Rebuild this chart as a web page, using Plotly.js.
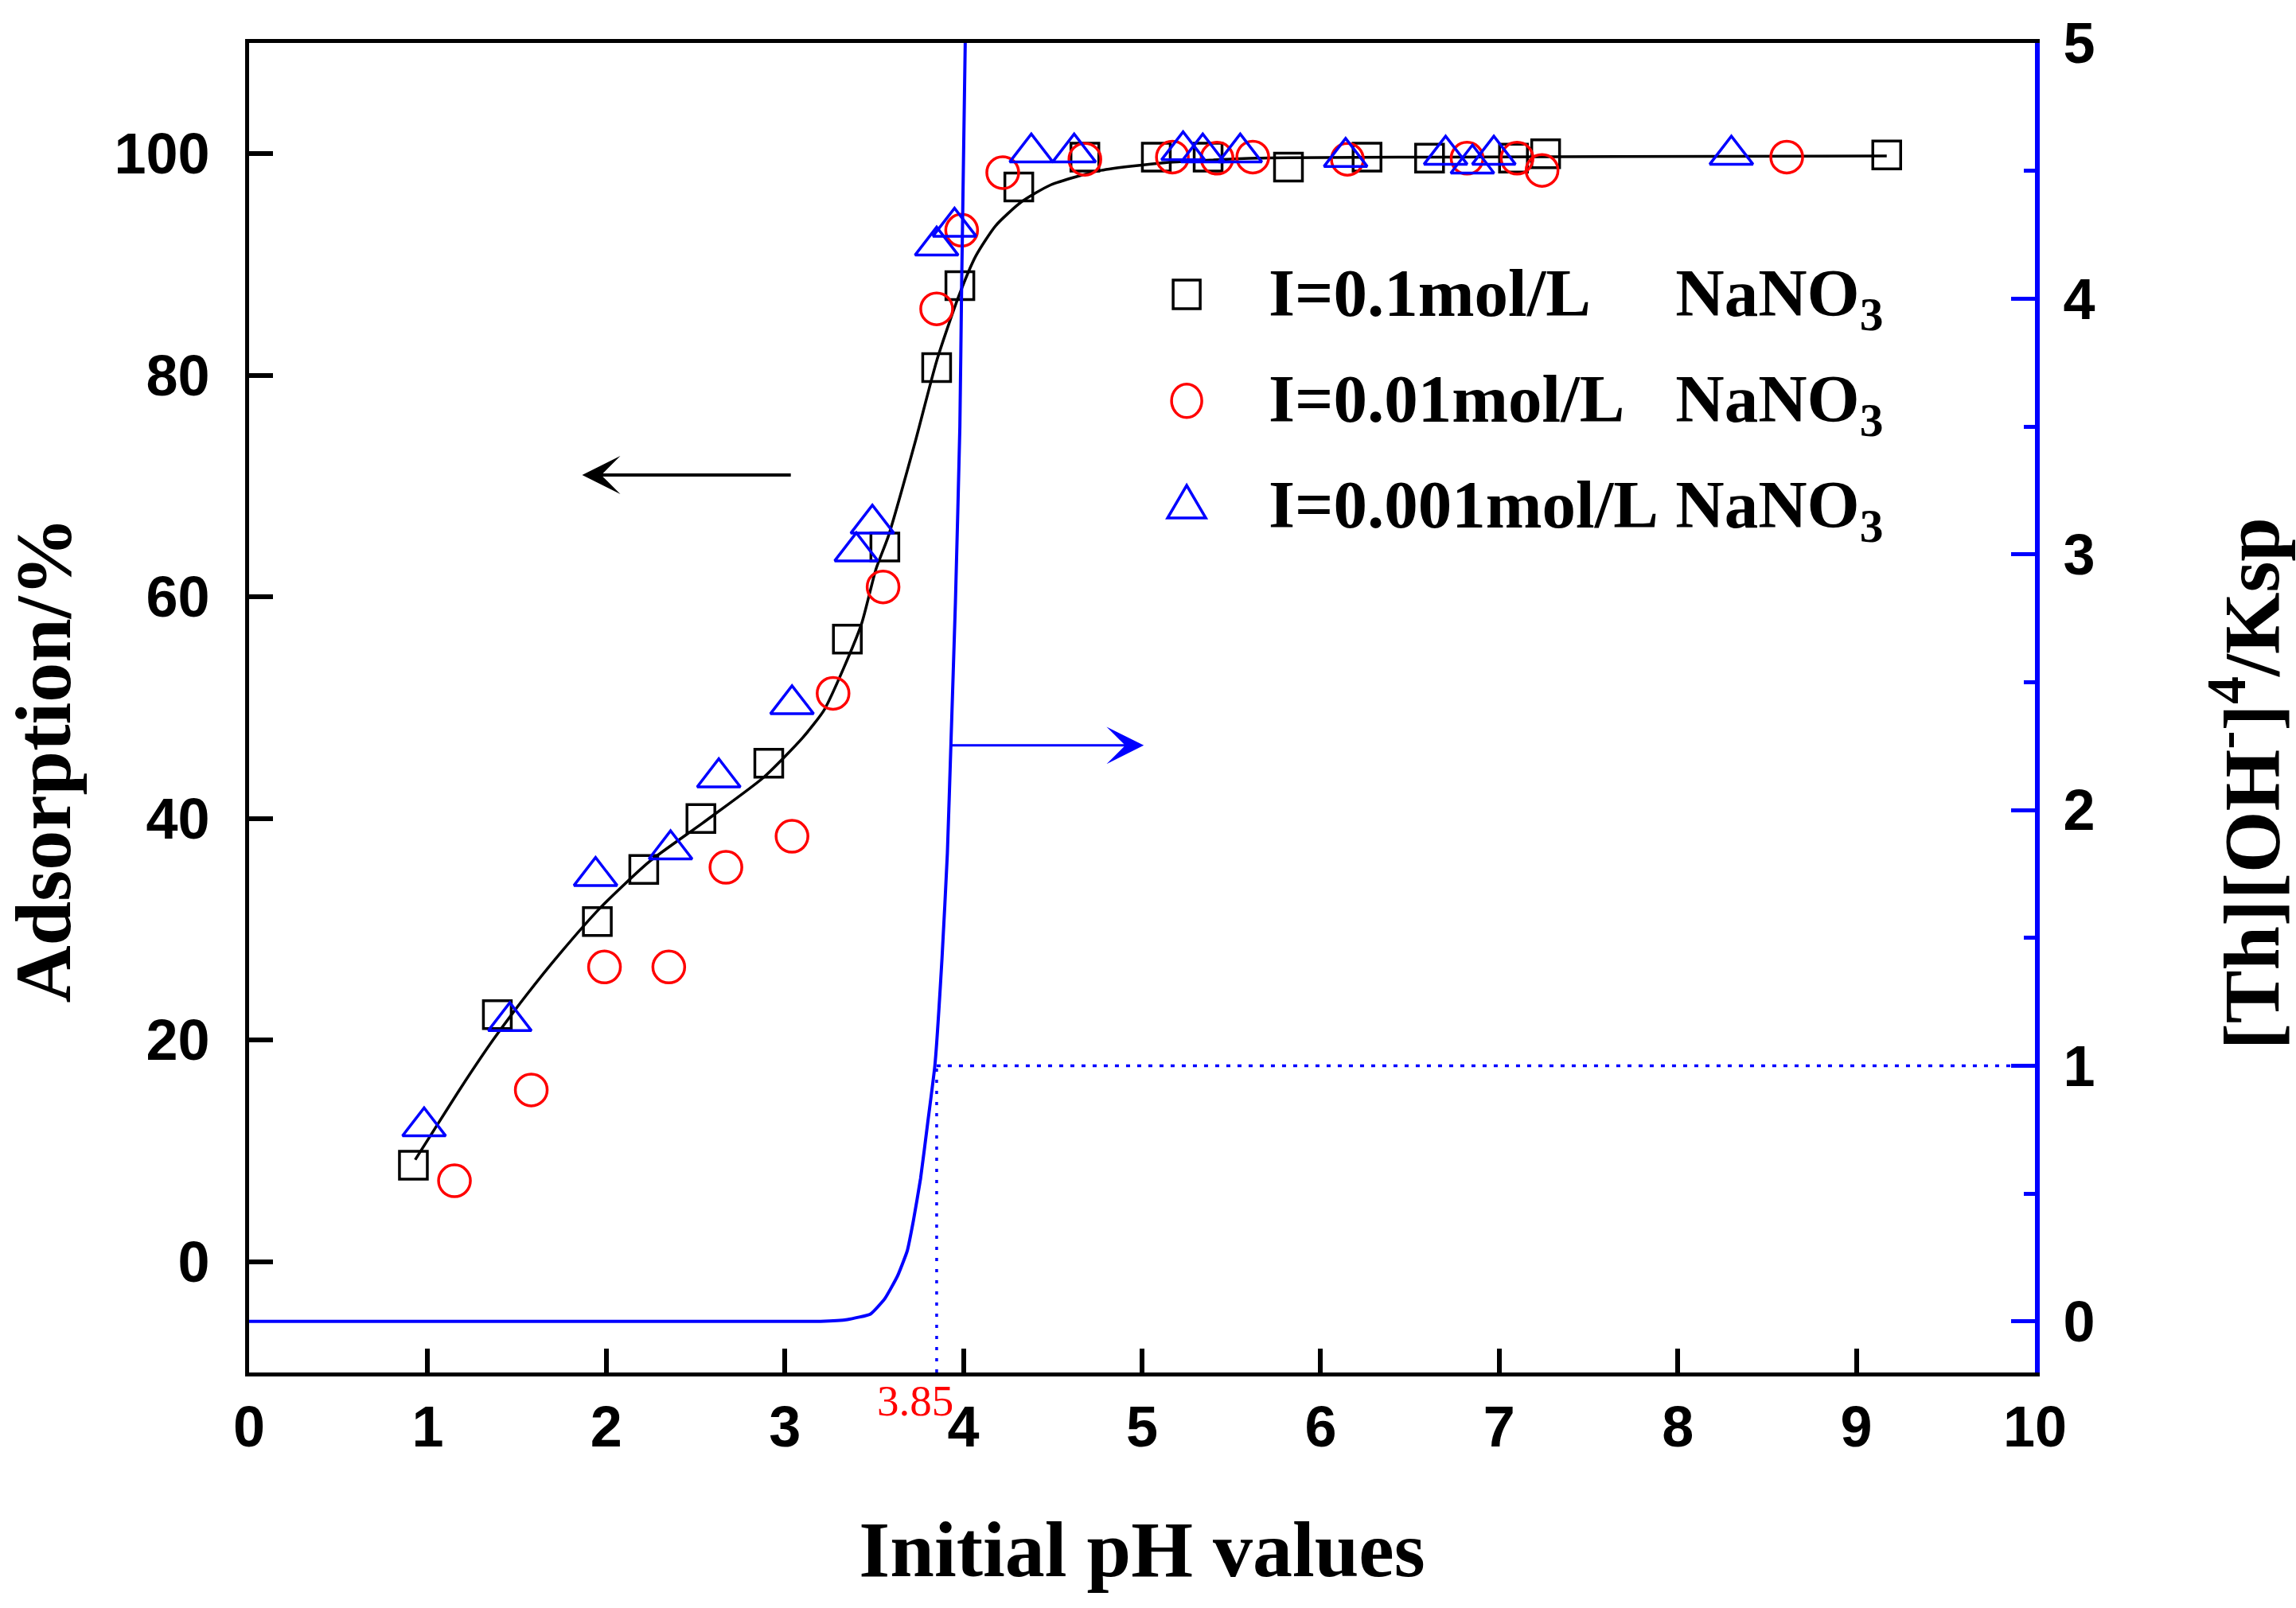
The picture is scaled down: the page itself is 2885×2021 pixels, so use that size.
<!DOCTYPE html>
<html>
<head>
<meta charset="utf-8">
<script src="https://cdn.plot.ly/plotly-3.0.1.min.js"></script>
<style>
  body { margin: 0; background: #fff; }
  #chart { width: 2885px; height: 2021px; }
</style>
</head>
<body>
<div id="chart"></div>
<script>

// adsorption data (pH, %)
var ph_01 =  [0.92, 1.39, 1.95, 2.21, 2.53, 2.91, 3.35, 3.56, 3.85, 3.98, 4.31, 4.68, 5.08, 5.37, 5.82, 6.26, 6.61, 7.08, 7.26, 9.17]
var ads_01 = [8.7, 22.3, 30.7, 35.4, 40.0, 45.0, 56.2, 64.5, 80.7, 88.1, 97.0, 99.7, 99.7, 99.7, 98.8, 99.7, 99.6, 99.6, 100.0, 99.9]

var ph_001 =  [1.15, 1.58, 1.99, 2.35, 2.67, 3.04, 3.27, 3.55, 3.85, 3.99, 4.22, 4.68, 5.17, 5.42, 5.62, 6.15, 6.82, 7.10, 7.24, 8.61]
var ads_001 = [7.3, 15.5, 26.6, 26.6, 35.6, 38.4, 51.3, 60.9, 86.0, 93.1, 98.3, 99.5, 99.7, 99.6, 99.7, 99.5, 99.6, 99.6, 98.5, 99.7]

var ph_0001 =  [0.98, 1.46, 1.94, 2.36, 2.63, 3.04, 3.40, 3.49, 3.85, 3.95, 4.38, 4.62, 5.23, 5.34, 5.55, 6.14, 6.70, 6.85, 6.97, 8.30]
var ads_0001 = [12.2, 21.7, 34.8, 37.2, 43.7, 50.3, 64.1, 66.6, 91.7, 93.4, 100.1, 100.1, 100.3, 100.1, 100.1, 99.7, 99.9, 99.1, 99.9, 99.9]

// fitted curve through the 0.1 mol/L points
var fit_ph =  [0.93, 1.04, 1.19, 1.37, 1.55, 1.74, 1.97, 2.24, 2.54, 2.88, 3.10, 3.22, 3.33, 3.43, 3.51, 3.58, 3.73, 3.85, 3.97, 4.07, 4.18, 4.32, 4.49, 4.77, 5.13, 5.65, 6.64, 9.17]
var fit_ads = [9.2, 12.0, 15.8, 20.1, 24.0, 27.8, 32.0, 36.1, 39.6, 43.7, 47.3, 49.8, 53.6, 57.6, 62.5, 65.5, 74.0, 81.3, 87.0, 90.8, 93.5, 95.6, 97.2, 98.5, 99.2, 99.6, 99.7, 99.8]

// [Th][OH-]^4/Ksp curve (right axis)
var sat_ph =    [0, 3.20, 3.35, 3.48, 3.56, 3.63, 3.685, 3.72, 3.76, 3.80, 3.84, 3.88, 3.91, 3.93, 3.955, 3.98, 3.99, 4.01]
var sat_ratio = [0, 0, 0.007, 0.029, 0.089, 0.176, 0.275, 0.395, 0.559, 0.777, 1.0, 1.42, 1.83, 2.26, 2.81, 3.5, 4.06, 5.0]

var phCross = 3.85     // pH where ratio = 1
var ratioLevel = 1

var seriesNames = ['I=0.1mol/L', 'I=0.01mol/L', 'I=0.001mol/L']
var salt = 'NaNO<sub>3</sub>'
var seriesColors = ['#000000', '#ff0000', '#0000ff']
var seriesSymbols = ['square-open', 'circle-open', 'triangle-up-open']

var xTicks = [0, 1, 2, 3, 4, 5, 6, 7, 8, 9, 10]
var yTicks = [0, 20, 40, 60, 80, 100]
var y2Ticks = [0, 1, 2, 3, 4, 5]

var xTitle = 'Initial pH values'
var yTitle = 'Adsorption/%'
var y2Title = '[Th][OH<sup>-</sup>]<sup>4</sup>/Ksp'


var serif = 'Times New Roman, Liberation Serif, serif'
var sans = 'Arial, Liberation Sans, sans-serif'

var phs = [ph_01, ph_001, ph_0001]
var ads = [ads_01, ads_001, ads_0001]
var sizes = [35, 40, 47]

var traces = []

traces.push({
    x: fit_ph, y: fit_ads,
    type: 'scatter', mode: 'lines',
    line: {color: '#000', width: 3.5, shape: 'spline', smoothing: 0.6},
    showlegend: false, hoverinfo: 'skip',
})

traces.push({
    x: sat_ph, y: sat_ratio, yaxis: 'y2',
    type: 'scatter', mode: 'lines',
    line: {color: '#0000ff', width: 4, shape: 'spline', smoothing: 0.4},
    showlegend: false, hoverinfo: 'skip',
})

for (var i=0;i<3;i++) {
    traces.push({
        x: phs[i], y: ads[i],
        name: seriesNames[i],
        type: 'scatter', mode: 'markers',
        marker: {symbol: seriesSymbols[i], size: sizes[i], color: seriesColors[i], line: {width: 3.5, color: seriesColors[i]}},
        showlegend: false,
    })
}


// legend drawn by hand so the keys keep their real size
var legX = 5.25, legTextX = 5.70
var legY = [87.3, 77.7, 68.2]
var legShapes = []
var legNotes = []
var keyPaths = [
    'M -17,-18 H 17 V 18 H -17 Z',
    '',
    'M -24,-15 H 24 L 0,26 Z',
]

for (var i=0;i<3;i++) {
    var base = {xref: 'x', yref: 'y', xsizemode: 'pixel', ysizemode: 'pixel', xanchor: legX, yanchor: legY[i],
                line: {color: seriesColors[i], width: 3.5}, fillcolor: 'rgba(0,0,0,0)'}
    if (i == 1) {
        legShapes.push(Object.assign({type: 'circle', x0: -19, x1: 19, y0: -21, y1: 21}, base))
    } else {
        legShapes.push(Object.assign({type: 'path', path: keyPaths[i]}, base))
    }
    var pad = '\u00a0'.repeat(1 + 2*(2-i))
    legNotes.push({
        x: legTextX, y: legY[i], xref: 'x', yref: 'y',
        xanchor: 'left', yanchor: 'middle', yshift: -4,
        text: seriesNames[i] + pad + salt,
        showarrow: false, align: 'left',
        font: {family: serif, size: 85, color: '#000', weight: 'bold'},
    })
}


// guide lines at ratio = 1
var guides = [
    {type: 'line', xref: 'x', yref: 'y2', x0: phCross, x1: phCross, y0: -0.2, y1: ratioLevel,
     line: {color: '#0000ff', width: 3.5, dash: '4px,10px'}},
    {type: 'line', xref: 'x', yref: 'y2', x0: phCross, x1: 10, y0: ratioLevel, y1: ratioLevel,
     line: {color: '#0000ff', width: 3.5, dash: '5px,9px'}},
]

var titleFont = {family: serif, size: 100, color: '#000', weight: 'bold'}

var notes = legNotes.concat([
    {   // arrow to the left axis
        x: 1.865, y: 71.0, ax: 3.04, ay: 71.0, xref: 'x', yref: 'y', axref: 'x', ayref: 'y',
        text: '', showarrow: true, arrowhead: 3, arrowsize: 2, arrowwidth: 4, arrowcolor: '#000', standoff: 0,
    },
    {   // arrow to the right axis
        x: 5.01, y: 46.6, ax: 3.92, ay: 46.6, xref: 'x', yref: 'y', axref: 'x', ayref: 'y',
        text: '', showarrow: true, arrowhead: 3, arrowsize: 2.6, arrowwidth: 3, arrowcolor: '#0000ff', standoff: 0,
    },
    {
        x: 3.73, y: -0.021, xref: 'x', yref: 'paper', xanchor: 'center', yanchor: 'middle',
        text: String(phCross), showarrow: false,
        font: {family: serif, size: 55, color: '#ff0000'},
    },
    // side titles placed where the original has them (a little below centre)
    {
        x: -0.115, y: 0.461, xref: 'paper', yref: 'paper', xanchor: 'center', yanchor: 'middle',
        text: yTitle, textangle: -90, showarrow: false, font: titleFont,
    },
    {
        x: 1.118, y: 0.443, xref: 'paper', yref: 'paper', xanchor: 'center', yanchor: 'middle',
        text: y2Title, textangle: -90, showarrow: false, font: titleFont,
    },
])


var layout = {
    width: 2885,
    height: 2021,
    showlegend: false,
    plot_bgcolor: '#fff',
    paper_bgcolor: '#fff',
    margin: {l: 313, r: 328, t: 54, b: 296},
    xaxis: {
        range: [0, 10],
        tickvals: xTicks,
        ticks: 'inside', ticklen: 30, tickwidth: 6, tickcolor: '#000',
        ticklabelstandoff: 2,
        showline: true, linecolor: '#000', linewidth: 5, mirror: true,
        showgrid: false, zeroline: false,
        tickfont: {family: sans, size: 72, color: '#000', weight: 'bold'},
        title: {text: xTitle, standoff: 80, font: titleFont},
    },
    yaxis: {
        range: [-10, 110],
        tickvals: yTicks,
        ticks: 'inside', ticklen: 30, tickwidth: 6, tickcolor: '#000',
        ticklabelstandoff: 30,
        showline: true, linecolor: '#000', linewidth: 5,
        showgrid: false, zeroline: false,
        tickfont: {family: sans, size: 72, color: '#000', weight: 'bold'},
    },
    yaxis2: {
        range: [-0.2, 5],
        overlaying: 'y', side: 'right',
        tickvals: y2Ticks,
        ticks: 'inside', ticklen: 30, tickwidth: 5, tickcolor: '#0000ff',
        minor: {dtick: 0.5, ticks: 'inside', ticklen: 14, tickwidth: 5, tickcolor: '#0000ff'},
        ticklabelstandoff: 15,
        showline: true, linecolor: '#0000ff', linewidth: 6,
        showgrid: false, zeroline: false,
        tickfont: {family: sans, size: 72, color: '#000', weight: 'bold'},
    },
    shapes: guides.concat(legShapes),
    annotations: notes,
}

Plotly.newPlot('chart', traces, layout, {displayModeBar: false, staticPlot: true})

</script>
</body>
</html>
